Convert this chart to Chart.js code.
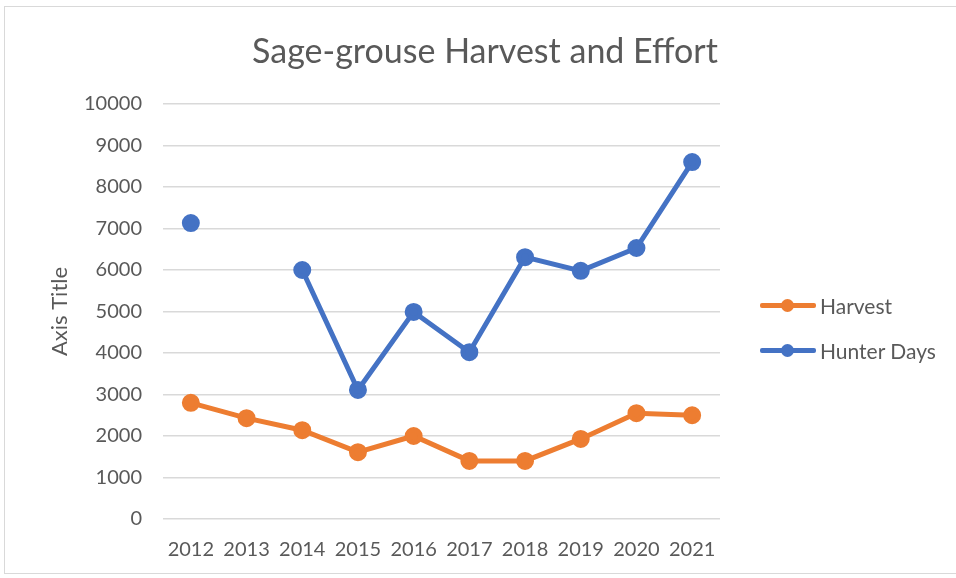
<!DOCTYPE html>
<html>
<head>
<meta charset="utf-8">
<script src="https://cdn.jsdelivr.net/npm/chart.js@4"></script>
<style>
  html, body { margin: 0; padding: 0; background: #fff; width: 956px; height: 578px; overflow: hidden; }
  #wrap { position: absolute; left: 4px; top: 6px; width: 960px; height: 568px; border: 1px solid #d9d9d9; box-sizing: border-box; }
  #chartBox { position: absolute; left: 0; top: 0; width: 956px; height: 578px; }
  #title { position: absolute; left: 0; width: 970px; top: 29px; text-align: center; font-family: Lato, sans-serif; font-size: 34px; color: #595959; }
  #legend { position: absolute; left: 760px; top: 283px; font-family: Lato, sans-serif; font-size: 21px; color: #595959; }
  .item { display: flex; align-items: center; height: 45px; }
  .mark { position: relative; width: 56px; height: 13px; margin-right: 4px; }
  .mark .ln { position: absolute; left: 0; right: 0; top: 4px; height: 5px; border-radius: 2px; }
  .mark .dt { position: absolute; left: 21px; top: 0; width: 13px; height: 13px; border-radius: 50%; }
</style>
</head>
<body>
<div id="wrap"></div>
<div id="chartBox"><canvas id="chart"></canvas></div>
<div id="title">Sage-grouse Harvest and Effort</div>
<div id="legend"></div>
<script>
const years = ['2012', '2013', '2014', '2015', '2016', '2017', '2018', '2019', '2020', '2021'];
const harvest = [2800, 2430, 2140, 1610, 2000, 1400, 1400, 1930, 2550, 2500];
const hunterDays = [7130, null, 6000, 3110, 4990, 4020, 6310, 5980, 6530, 8600];

const orange = '#ED7D31';
const blue = '#4472C4';
const grey = '#595959';

const ctx = document.getElementById('chart');
const chart = new Chart(ctx, {
    type: 'line',
    data: {
        labels: years,
        datasets: [{
            label: 'Harvest',
            data: harvest,
            borderColor: orange,
            backgroundColor: orange,
            borderWidth: 5,
            pointRadius: 6.5,
            pointHoverRadius: 6.5
        }, {
            label: 'Hunter Days',
            data: hunterDays,
            borderColor: blue,
            backgroundColor: blue,
            borderWidth: 5,
            pointRadius: 6.5,
            pointHoverRadius: 6.5,
            spanGaps: false
        }]
    },
    options: {
        responsive: true,
        maintainAspectRatio: false,
        animation: false,
        layout: { padding: { left: 47, right: 236, top: 104, bottom: -3 } },
        plugins: {
            legend: { display: false },
            tooltip: { enabled: false }
        },
        scales: {
            x: {
                offset: true,
                grid: { display: false, drawTicks: false },
                border: { display: false },
                ticks: { color: grey, font: { family: 'Lato', size: 20 }, padding: 19, maxRotation: 0 }
            },
            y: {
                min: 0,
                max: 10000,
                afterFit: scale => { scale.width = 116; },
                grid: { color: '#d9d9d9', lineWidth: 1.5, drawTicks: false },
                border: { display: false },
                ticks: {
                    stepSize: 1000,
                    color: grey,
                    font: { family: 'Lato', size: 20 },
                    padding: 21,
                    callback: v => String(v)
                },
                title: {
                    display: true,
                    text: 'Axis Title',
                    color: grey,
                    font: { family: 'Lato', size: 22, weight: 'normal' },
                    padding: { top: 0, bottom: 0 }
                }
            }
        }
    }
});

// legend built from the datasets
const legendEl = document.getElementById('legend');
chart.data.datasets.forEach(ds => {
    const item = document.createElement('div');
    item.className = 'item';
    item.innerHTML = `<div class="mark"><div class="ln" style="background:${ds.borderColor}"></div>` +
        `<div class="dt" style="background:${ds.borderColor}"></div></div><span>${ds.label}</span>`;
    legendEl.appendChild(item);
});
</script>
</body>
</html>
